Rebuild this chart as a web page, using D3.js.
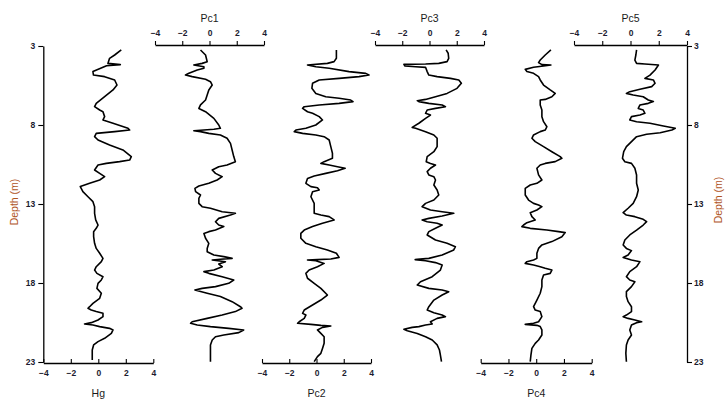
<!DOCTYPE html>
<html><head><meta charset="utf-8">
<script src="https://cdn.jsdelivr.net/npm/d3@7"></script>
<style>
body{margin:0;background:#fff;}
svg{display:block;font-family:"Liberation Sans",Arial,sans-serif;}
</style></head>
<body>
<svg id="chart" width="725" height="404"></svg>
<script>
// ---- data (depth m, value) ----
const depthTicks = [3, 8, 13, 18, 23];
const valueTicks = [-4, -2, 0, 2, 4];
const seriesNames = ["Hg", "Pc1", "Pc2", "Pc3", "Pc4", "Pc5"];

const hg = [[3.25,1.67],[3.57,1.19],[3.78,0.82],[4.10,0.70],[4.18,1.6],[4.25,0.6],[4.62,-0.39],[4.84,-0.35],[4.94,0.46],[5.15,1.19],[5.47,1.36],[5.78,1.07],[6.21,0.46],[6.63,-0.15],[6.84,-0.27],[7.05,0.10],[7.16,0.34],[7.47,0.46],[7.68,0.34],[7.89,1.07],[8.21,2.16],[8.32,2.28],[8.42,1.19],[8.53,-0.15],[8.74,-0.27],[8.95,-0.02],[9.27,0.82],[9.58,1.79],[10.0,2.40],[10.22,2.28],[10.32,1.55],[10.43,0.58],[10.53,-0.02],[10.85,-0.27],[11.06,0.10],[11.27,0.46],[11.48,0.10],[11.69,-0.63],[11.90,-1.31],[12.22,-1.12],[12.54,-0.75],[12.85,-0.39],[13.17,-0.27],[13.59,-0.27],[14.01,-0.19],[14.33,-0.02],[14.54,-0.15],[14.75,-0.34],[15.07,-0.34],[15.49,-0.27],[15.81,-0.15],[16.12,0.10],[16.44,0.34],[16.65,0.22],[16.97,-0.15],[17.18,-0.27],[17.39,-0.10],[17.60,0.34],[17.81,0.22],[18.02,-0.02],[18.34,-0.10],[18.65,0.22],[18.97,0.10],[19.29,-0.39],[19.50,-0.63],[19.60,-0.75],[19.71,-0.51],[19.81,-0.15],[19.92,0.34],[20.13,0.34],[20.34,-0.02],[20.51,-0.51],[20.59,-1.0],[20.66,-0.39],[20.76,0.10],[20.87,0.82],[20.97,1.07],[21.19,0.95],[21.50,0.46],[21.71,-0.02],[21.92,-0.34],[22.24,-0.44],[22.56,-0.44],[22.87,-0.44]];

const pc1 = [[3.25,-0.66],[3.57,-0.29],[3.99,-0.17],[4.10,-0.54],[4.20,-1.15],[4.31,-0.41],[4.41,-0.41],[4.52,-0.90],[4.73,-1.51],[4.84,-1.76],[4.94,-1.27],[5.11,-0.29],[5.26,0.07],[5.47,0.20],[5.78,-0.05],[6.10,-0.17],[6.42,-0.29],[6.73,-0.66],[6.95,-0.78],[7.16,-0.29],[7.58,0.32],[8.00,0.68],[8.21,0.80],[8.27,0.32],[8.36,-1.15],[8.42,-0.66],[8.53,-0.05],[8.63,0.80],[8.84,1.29],[9.16,1.54],[9.58,1.66],[10.00,1.78],[10.32,1.90],[10.53,1.29],[10.64,0.68],[10.85,0.20],[11.06,0.44],[11.27,0.93],[11.48,0.56],[11.69,-0.05],[11.86,-0.78],[12.01,-1.07],[12.22,-1.02],[12.43,-0.66],[12.64,-0.78],[12.96,-0.78],[13.17,-0.54],[13.27,0.07],[13.49,0.93],[13.59,1.90],[13.70,1.54],[13.91,0.68],[14.12,0.44],[14.33,0.68],[14.43,1.05],[14.65,0.44],[14.75,-0.05],[14.86,-0.41],[15.17,-0.29],[15.49,-0.05],[15.81,-0.17],[16.02,-0.17],[16.23,0.32],[16.33,1.05],[16.44,1.66],[16.50,0.80],[16.54,0.20],[16.65,1.17],[16.80,0.68],[16.97,0.93],[17.18,0.32],[17.28,-0.41],[17.39,-0.05],[17.60,0.93],[17.81,1.78],[18.02,1.41],[18.23,0.44],[18.34,-0.54],[18.44,-1.07],[18.65,-0.17],[18.86,0.80],[19.18,1.66],[19.50,2.27],[19.60,2.39],[19.81,1.90],[20.03,0.93],[20.24,-0.17],[20.45,-1.27],[20.55,-1.39],[20.66,-0.90],[20.76,0.07],[20.87,1.41],[20.97,2.51],[21.14,2.15],[21.29,1.05],[21.40,0.44],[21.61,0.20],[21.92,0.07],[22.45,0.07],[22.98,0.07]];

const pc2 = [[3.25,1.46],[3.78,1.46],[3.99,1.29],[4.10,0.80],[4.20,-0.66],[4.31,-0.05],[4.41,0.93],[4.62,2.39],[4.73,3.61],[4.84,3.85],[4.94,3.12],[5.05,1.66],[5.15,0.20],[5.36,-0.29],[5.68,-0.34],[6.00,-0.05],[6.21,0.68],[6.31,1.66],[6.42,2.51],[6.52,2.68],[6.63,1.66],[6.73,0.20],[6.84,-0.90],[6.95,-1.02],[7.16,-0.66],[7.26,-0.29],[7.47,0.20],[7.68,0.44],[8.00,-0.05],[8.21,-0.78],[8.32,-1.51],[8.42,-1.63],[8.53,-1.02],[8.63,-0.05],[8.74,0.56],[8.95,0.93],[9.37,1.05],[9.79,1.17],[10.11,1.17],[10.32,0.56],[10.43,0.32],[10.53,0.93],[10.64,1.54],[10.74,2.10],[10.89,1.54],[11.06,0.68],[11.23,-0.17],[11.38,-0.66],[11.69,-0.78],[11.90,-0.41],[11.97,0.07],[12.11,0.20],[12.22,-0.29],[12.54,-0.41],[12.96,-0.17],[13.38,-0.17],[13.59,-0.17],[13.70,0.32],[13.80,0.93],[14.01,1.29],[14.22,0.44],[14.43,-0.29],[14.65,-0.90],[14.86,-1.15],[15.17,-1.15],[15.49,-0.78],[15.70,-0.05],[15.91,0.80],[16.12,1.46],[16.38,1.66],[16.48,1.05],[16.52,0.07],[16.54,-0.66],[16.59,-0.05],[16.76,0.56],[16.97,0.07],[17.18,-0.54],[17.39,-0.78],[17.70,-0.66],[18.02,-0.17],[18.34,0.32],[18.76,0.80],[19.08,0.32],[19.39,-0.29],[19.71,-0.90],[19.92,-1.02],[20.03,-0.78],[20.24,-0.90],[20.45,-1.27],[20.55,-1.39],[20.62,-0.41],[20.68,0.32],[20.72,1.05],[20.81,0.44],[20.97,0.07],[21.19,0.32],[21.40,0.56],[21.82,0.56],[22.14,0.44],[22.45,0.32],[22.66,0.07],[22.98,-0.17]];

const pc3 = [[3.25,1.22],[3.46,1.37],[3.78,1.41],[3.99,1.29],[4.10,0.68],[4.14,-0.29],[4.16,-1.88],[4.27,-1.80],[4.31,-1.02],[4.35,-0.29],[4.62,-0.17],[4.84,-0.05],[4.94,0.56],[5.05,1.54],[5.15,2.15],[5.36,2.34],[5.68,2.02],[6.00,1.29],[6.21,0.44],[6.38,-0.29],[6.46,-0.90],[6.52,-0.78],[6.63,-0.05],[6.73,0.93],[6.84,1.17],[6.95,0.44],[7.05,-0.17],[7.26,-0.29],[7.37,0.07],[7.58,-0.29],[7.89,-0.78],[8.15,-1.27],[8.21,-1.02],[8.42,-0.29],[8.63,0.32],[8.84,0.56],[9.37,0.56],[9.69,0.32],[10.00,-0.17],[10.32,-0.24],[10.43,0.07],[10.53,0.44],[10.74,0.07],[10.95,-0.17],[11.16,-0.05],[11.27,0.32],[11.48,0.44],[11.80,0.32],[12.11,0.56],[12.43,0.68],[12.75,0.32],[12.96,-0.29],[13.17,-0.54],[13.38,0.07],[13.49,0.93],[13.59,1.78],[13.76,0.93],[13.91,-0.05],[14.01,-0.54],[14.12,-0.17],[14.22,0.56],[14.33,0.93],[14.54,0.44],[14.75,-0.05],[14.96,-0.17],[15.28,0.44],[15.49,1.29],[15.70,1.90],[15.91,1.78],[16.23,0.93],[16.44,-0.05],[16.50,-0.90],[16.52,-1.05],[16.59,-0.29],[16.71,0.44],[16.86,0.93],[17.18,0.80],[17.60,0.20],[17.92,-0.66],[18.13,-0.90],[18.34,-0.05],[18.44,0.93],[18.55,1.41],[18.76,0.93],[19.08,0.32],[19.50,-0.05],[19.71,-0.17],[19.88,0.32],[20.03,0.93],[20.13,1.17],[20.24,0.56],[20.45,0.07],[20.59,0.20],[20.66,-0.29],[20.76,-0.78],[20.81,-1.27],[20.93,-1.88],[21.02,-1.63],[21.19,-0.90],[21.40,-0.29],[21.61,0.20],[21.92,0.56],[22.24,0.73],[22.56,0.80],[22.98,0.88]];

const pc4 = [[3.25,1.06],[3.57,0.65],[3.89,0.29],[4.05,0.17],[4.18,0.41],[4.20,1.06],[4.27,0.53],[4.35,-0.19],[4.48,-0.79],[4.62,-0.67],[4.73,-0.19],[4.94,0.17],[5.15,0.29],[5.47,0.53],[5.78,1.01],[6.00,1.37],[6.21,1.13],[6.38,0.65],[6.42,0.29],[6.73,0.29],[7.05,0.41],[7.47,0.41],[7.79,0.53],[8.11,0.77],[8.32,0.65],[8.42,0.29],[8.63,-0.19],[8.84,-0.31],[9.05,-0.07],[9.37,0.53],[9.69,1.13],[10.00,1.73],[10.11,1.85],[10.32,1.37],[10.43,0.65],[10.53,0.29],[10.74,0.05],[11.16,0.17],[11.48,0.41],[11.69,0.05],[11.80,-0.43],[12.01,-0.79],[12.43,-0.79],[12.75,-0.55],[12.96,-0.19],[13.06,0.17],[13.17,0.41],[13.38,0.05],[13.55,-0.43],[13.80,-0.31],[14.01,-0.07],[14.18,-0.67],[14.33,-0.91],[14.43,-1.03],[14.54,-0.43],[14.65,0.77],[14.75,1.61],[14.81,2.09],[15.07,1.85],[15.38,1.13],[15.59,0.41],[15.81,0.17],[16.12,0.05],[16.44,0.05],[16.54,-0.19],[16.65,-0.67],[16.76,-0.79],[16.86,-0.19],[16.97,0.29],[17.07,0.65],[17.18,1.13],[17.39,1.01],[17.49,0.53],[17.81,0.41],[18.23,0.41],[18.65,0.29],[19.08,0.05],[19.50,-0.19],[19.71,-0.07],[19.81,0.29],[20.13,0.41],[20.45,0.17],[20.55,-0.19],[20.62,-0.79],[20.68,0.05],[20.76,0.29],[20.97,0.41],[21.29,0.41],[21.61,0.17],[21.82,-0.07],[22.14,-0.31],[22.56,-0.38],[22.98,-0.43]];

const pc5 = [[3.25,0.43],[3.57,0.38],[3.89,0.31],[4.10,0.43],[4.14,1.02],[4.20,1.98],[4.52,1.74],[4.84,1.38],[5.05,1.02],[5.15,1.62],[5.36,1.74],[5.57,1.50],[5.74,0.67],[5.89,-0.05],[6.00,-0.29],[6.10,0.19],[6.21,0.90],[6.42,1.26],[6.52,1.62],[6.63,1.26],[6.73,0.67],[6.95,0.55],[7.05,0.90],[7.26,1.02],[7.37,0.67],[7.47,0.07],[7.68,-0.05],[7.79,0.43],[7.89,1.38],[8.06,2.33],[8.21,3.17],[8.32,2.93],[8.49,2.10],[8.59,1.14],[8.74,0.43],[9.05,0.07],[9.37,-0.29],[9.69,-0.48],[10.11,-0.57],[10.32,-0.40],[10.43,0.07],[10.74,0.31],[11.16,0.43],[11.69,0.43],[12.11,0.55],[12.54,0.43],[12.96,0.19],[13.27,-0.17],[13.55,-0.52],[13.70,-0.29],[13.80,0.31],[13.97,0.90],[14.12,1.14],[14.33,0.90],[14.65,0.43],[14.96,-0.05],[15.28,-0.40],[15.59,-0.52],[15.81,-0.29],[15.95,0.07],[16.23,-0.17],[16.38,-0.52],[16.54,0.07],[16.65,0.67],[16.97,0.43],[17.28,-0.05],[17.60,-0.29],[17.81,-0.05],[17.92,0.31],[18.23,0.07],[18.55,-0.29],[18.86,-0.29],[19.18,-0.17],[19.50,0.07],[19.81,0.07],[20.03,-0.29],[20.13,-0.52],[20.24,-0.17],[20.34,0.31],[20.45,0.79],[20.51,0.43],[20.66,0.07],[20.97,-0.05],[21.29,0.07],[21.61,-0.17],[21.92,-0.29],[22.45,-0.33],[22.98,-0.29]];

const seriesData = [hg, pc1, pc2, pc3, pc4, pc5];

// ---- layout ----
const trackX = [[43.3,153.3],[155,264],[262,371],[375,484],[480.7,591.7],[574,687]];
const axisSide = ["bottom","top","bottom","top","bottom","top"];
const yTop = 46, yBot = 362;
const leftX = 43.3, rightX = 687;
const tickColor = "#1c1c30";

const svg = d3.select("#chart");
const y = d3.scaleLinear().domain([3, 23]).range([yTop, yBot]);

function styleAxis(g){
  g.selectAll("path.domain").attr("stroke","#000").attr("stroke-width",1.3);
  g.selectAll(".tick line").attr("stroke","#000").attr("stroke-width",1.1);
  g.selectAll(".tick text").attr("fill",tickColor).style("font-size","8.5px").style("font-weight","bold");
}

// left / right depth axes
const minorDepth = d3.range(3, 23.01, 2.5).filter(d => !depthTicks.includes(d));
const gl = svg.append("g").attr("transform",`translate(${leftX},0)`);
gl.call(d3.axisLeft(y).tickValues(minorDepth).tickSize(3).tickFormat(""));
gl.call(d3.axisLeft(y).tickValues(depthTicks).tickSize(5).tickSizeOuter(0).tickPadding(3));
styleAxis(gl);
const gr = svg.append("g").attr("transform",`translate(${rightX},0)`);
gr.call(d3.axisRight(y).tickValues(minorDepth).tickSize(3).tickFormat(""));
gr.call(d3.axisRight(y).tickValues(depthTicks).tickSize(5).tickSizeOuter(0).tickPadding(2));
styleAxis(gr);

svg.append("text").attr("transform",`translate(18,202) rotate(-90)`)
  .attr("text-anchor","middle").attr("fill","#b0541e").style("font-size","10.5px").text("Depth (m)");
svg.append("text").attr("transform",`translate(722,200) rotate(-90)`)
  .attr("text-anchor","middle").attr("fill","#b0541e").style("font-size","10.5px").text("Depth (m)");

const minorVals = [-3,-1,1,3];
const line = d3.line().curve(d3.curveLinear);

seriesData.forEach((data, i) => {
  const x = d3.scaleLinear().domain([-4, 4]).range(trackX[i]);
  const side = axisSide[i];
  const ay = side === "top" ? yTop - 1 : yBot + 1;
  const g = svg.append("g").attr("transform",`translate(0,${ay})`);
  if (side === "top") {
    g.call(d3.axisTop(x).tickValues(minorVals).tickSize(-2.5).tickFormat("").tickSizeOuter(0));
    g.call(d3.axisTop(x).tickValues(valueTicks).tickSize(4).tickSizeOuter(0).tickPadding(5));
  } else {
    g.call(d3.axisBottom(x).tickValues(minorVals).tickSize(-2.5).tickFormat("").tickSizeOuter(0));
    g.call(d3.axisBottom(x).tickValues(valueTicks).tickSize(-4).tickSizeOuter(0).tickPadding(7));
  }
  styleAxis(g);
  const cx = (trackX[i][0] + trackX[i][1]) / 2;
  svg.append("text").attr("x", cx).attr("y", side === "top" ? 22 : 397)
    .attr("text-anchor","middle").attr("fill","#1a1a1a").style("font-size","10.5px").text(seriesNames[i]);
  svg.append("path")
    .attr("d", line(data.map(p => [x(p[1]), y(p[0])])))
    .attr("fill","none").attr("stroke","#000").attr("stroke-width",1.6).attr("stroke-linejoin","round");
});
</script>
</body></html>
